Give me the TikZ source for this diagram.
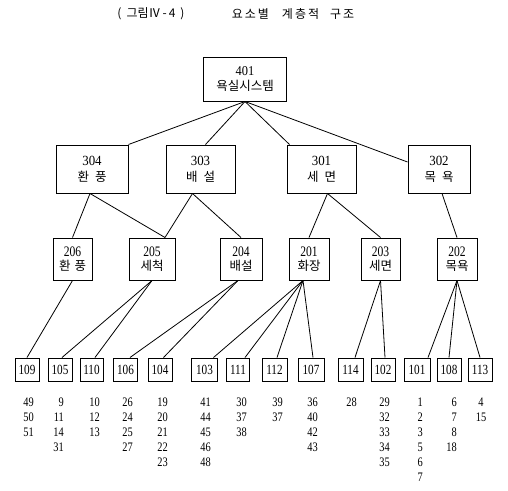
\documentclass[tikz,border=0pt]{standalone}
\usepackage{fontspec}
\setmainfont{Liberation Serif}
\newfontfamily\kr{Noto Sans CJK KR}
\newfontfamily\numn{Liberation Serif}[FakeStretch=0.8]
\newfontfamily\numw{Liberation Serif}[FakeStretch=0.92]
\newcommand\numcol[3]{%
  \foreach \v [count=\i from 0] in {#3} {\node[numtxt, anchor=base east] (#1-\i) at (#2, 406+15*\i) {\v};}}
\begin{document}
\begin{tikzpicture}[x=1pt,y=-1pt,
  box/.style={draw, line width=1pt, inner sep=0pt, align=center},
  topbox/.style={box, minimum width=83pt, minimum height=44pt, font=\fontsize{12.5}{15}\selectfont},
  midbox/.style={box, minimum height=48pt, font=\fontsize{12.5}{16}\selectfont},
  lowbox/.style={box, minimum height=42pt, font=\fontsize{12.5}{14.5}\selectfont},
  leafbox/.style={box, minimum height=23pt, minimum width=24pt, font=\numn\fontsize{14}{15}\selectfont},
  numtxt/.style={inner sep=0pt, font=\numn\fontsize{13}{15}\selectfont},
  conn/.style={line width=0.8pt},
  titletxt/.style={inner sep=0pt, font=\kr\fontsize{12}{14}\selectfont}]
\useasboundingbox (0,0) rectangle (508,490);
% title
\node[titletxt] (t1) at (151,14) {(\hspace{5pt}그림Ⅳ\,-\,4\hspace{5pt})};
\node[titletxt] (t2) at (293,14) {요\,소\,별\hspace{13pt}계\,층\,적\hspace{11pt}구\,조};
% top
\node[topbox] (c401) at (245,79) {{\numw\fontsize{13.5}{15}\selectfont 401}\\{\kr 욕실시스템}};
% level 3
\node[midbox, minimum width=72pt] (c304) at (92,169) {{\numw\fontsize{14}{16}\selectfont 304}\\{\kr 환\hspace{6pt}풍}};
\node[midbox, minimum width=69pt] (c303) at (200.5,169) {{\numw\fontsize{14}{16}\selectfont 303}\\{\kr 배\hspace{6pt}설}};
\node[midbox, minimum width=69pt] (c301) at (321.5,169) {{\numw\fontsize{14}{16}\selectfont 301}\\{\kr 세\hspace{6pt}면}};
\node[midbox, minimum width=62pt] (c302) at (439,169) {{\numw\fontsize{14}{16}\selectfont 302}\\{\kr 목\hspace{6pt}욕}};
% level 2
\node[lowbox, minimum width=39pt] (c206) at (72.5,259) {{\numn\fontsize{14.5}{14.5}\selectfont 206}\\{\kr 환\hspace{4pt}풍}};
\node[lowbox, minimum width=46pt] (c205) at (152,259) {{\numn\fontsize{14.5}{14.5}\selectfont 205}\\{\kr 세척}};
\node[lowbox, minimum width=42pt] (c204) at (241,259) {{\numn\fontsize{14.5}{14.5}\selectfont 204}\\{\kr 배설}};
\node[lowbox, minimum width=40pt] (c201) at (309,259) {{\numn\fontsize{14.5}{14.5}\selectfont 201}\\{\kr 화장}};
\node[lowbox, minimum width=39pt] (c203) at (380.5,259) {{\numn\fontsize{14.5}{14.5}\selectfont 203}\\{\kr 세면}};
\node[lowbox, minimum width=40pt] (c202) at (457,259) {{\numn\fontsize{14.5}{14.5}\selectfont 202}\\{\kr 목욕}};
% leaves
\node[leafbox] (c109) at (27,369.5) {109};
\node[leafbox] (c105) at (60,369.5) {105};
\node[leafbox, minimum width=23pt] (c110) at (91.5,369.5) {110};
\node[leafbox] (c106) at (125.5,369.5) {106};
\node[leafbox] (c104) at (160,369.5) {104};
\node[leafbox, minimum width=26pt] (c103) at (204.5,369.5) {103};
\node[leafbox, minimum width=23pt] (c111) at (238,369.5) {111};
\node[leafbox, minimum width=25pt] (c112) at (274.5,369.5) {112};
\node[leafbox, minimum width=26pt] (c107) at (311,369.5) {107};
\node[leafbox, minimum width=25pt] (c114) at (350.5,369.5) {114};
\node[leafbox] (c102) at (383,369.5) {102};
\node[leafbox, minimum width=26pt] (c101) at (417,369.5) {101};
\node[leafbox] (c108) at (449,369.5) {108};
\node[leafbox] (c113) at (480,369.5) {113};
% connectors top -> level 3
\draw[conn] (c401.south) -- (c304.north east);
\draw[conn] (c401.south) -- ([xshift=5pt]c303.north);
\draw[conn] (c401.south) -- ([xshift=3pt]c301.north west);
\draw[conn] (c401.south) -- ([yshift=7pt]c302.west);
% level 3 -> level 2
\draw[conn] ([xshift=-2pt]c304.south) -- (c206.north);
\draw[conn] ([xshift=-2pt]c304.south) -- ([xshift=13pt]c205.north);
\draw[conn] ([xshift=-8pt]c303.south) -- ([xshift=13pt]c205.north);
\draw[conn] ([xshift=-8pt]c303.south) -- (c204.north);
\draw[conn] ([xshift=6pt]c301.south) -- (c201.north);
\draw[conn] ([xshift=6pt]c301.south) -- (c203.north);
\draw[conn] ([xshift=3pt]c302.south) -- (c202.north);
% level 2 -> leaves
\draw[conn] (c206.south) -- (c109.north);
\draw[conn] (c205.south) -- ([xshift=2pt]c105.north);
\draw[conn] (c205.south) -- ([xshift=3.5pt]c110.north);
\draw[conn] ([xshift=-3pt]c204.south) -- ([xshift=4.5pt]c106.north);
\draw[conn] ([xshift=-3pt]c204.south) -- ([xshift=3.5pt]c104.north);
\draw[conn] ([xshift=-6pt]c201.south) -- ([xshift=9pt]c103.north);
\draw[conn] ([xshift=-6pt]c201.south) -- ([xshift=7pt]c111.north);
\draw[conn] ([xshift=-6pt]c201.south) -- ([xshift=2.5pt]c112.north);
\draw[conn] ([xshift=-6pt]c201.south) -- ([xshift=2pt]c107.north);
\draw[conn] (c203.south) -- ([xshift=4.5pt]c114.north);
\draw[conn] (c203.south) -- ([xshift=2pt]c102.north);
\draw[conn] (c202.south) -- ([xshift=11pt]c101.north);
\draw[conn] (c202.south) -- (c108.north);
\draw[conn] (c202.south) -- (c113.north);
% number columns
\numcol{n109}{34}{49,50,51}
\numcol{n105}{64}{9,11,14,31}
\numcol{n110}{100}{10,12,13}
\numcol{n106}{133}{26,24,25,27}
\numcol{n104}{168}{19,20,21,22,23}
\numcol{n103}{211}{41,44,45,46,48}
\numcol{n111}{247}{30,37,38}
\numcol{n112}{283}{39,37}
\numcol{n107}{318}{36,40,42,43}
\numcol{n114}{357}{28}
\numcol{n102}{390}{29,32,33,34,35}
\numcol{n101}{423}{1,2,3,5,6,7}
\numcol{n108}{457}{6,7,8,18}
\node[numtxt, anchor=base] (n113-0) at (481,406) {4};
\node[numtxt, anchor=base] (n113-1) at (481,421) {15};
\end{tikzpicture}
\end{document}
